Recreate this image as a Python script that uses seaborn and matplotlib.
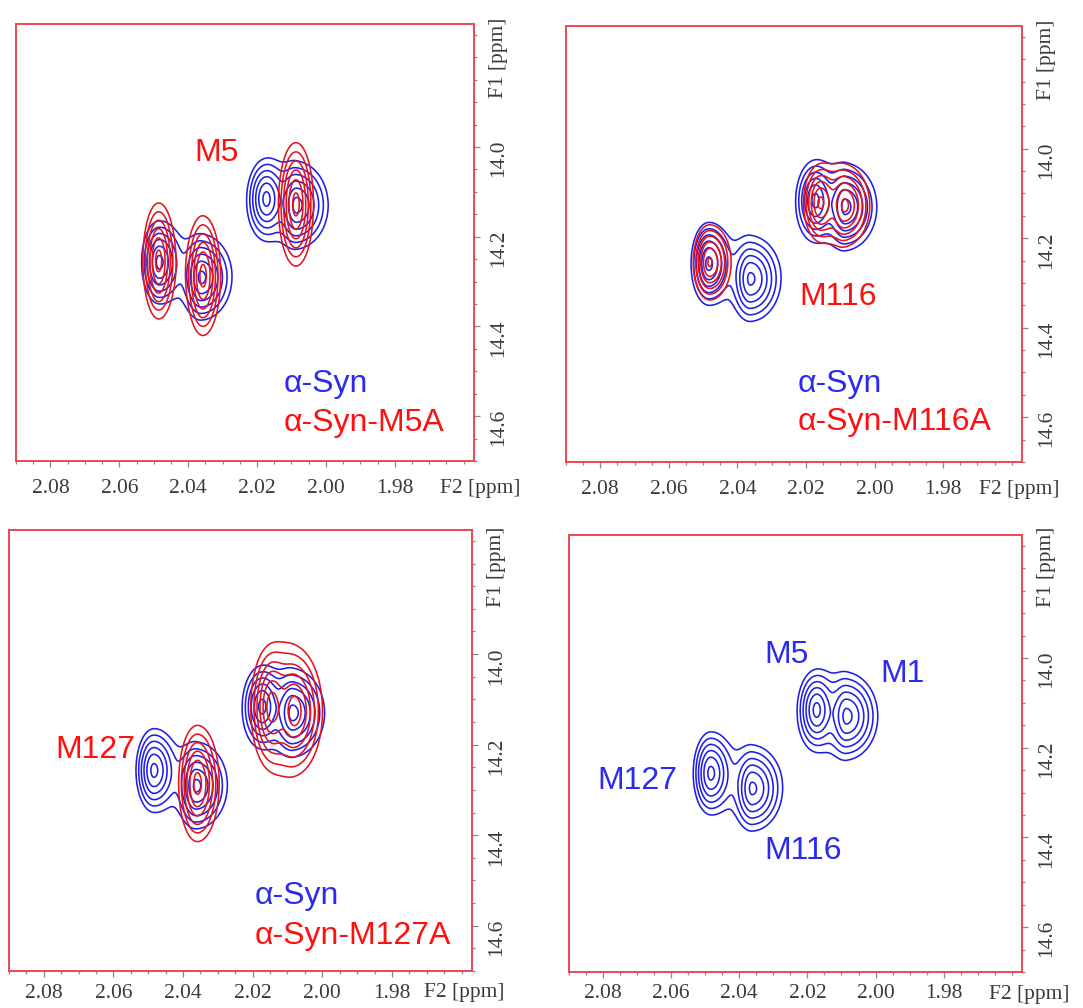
import numpy as np
import matplotlib
matplotlib.use("Agg")
import matplotlib.pyplot as plt
from matplotlib.ticker import FixedLocator, MultipleLocator, FormatStrFormatter
import seaborn as sns

# ---- Met methyl cross-peaks: 1H shift (F2), 13C shift (F1), height, half-widths ----
wt_residue = ["M1", "M5", "M116", "M127"]
wt_f2 = [2.0085, 2.0173, 2.0362, 2.0484]
wt_f1 = [14.130, 14.116, 14.291, 14.257]
wt_height = [1.0, 1.0, 0.97, 1.0]
wt_hw_f2_up = [0.0039, 0.0040, 0.0039, 0.0037]      # toward higher ppm
wt_hw_f2_down = [0.0066, 0.0040, 0.0064, 0.0048]    # toward lower ppm
wt_hw_f1 = [0.068, 0.063, 0.068, 0.066]

m5a_residue = ["M1", "M116", "M127"]
m5a_f2 = [2.0087, 2.0357, 2.0486]
m5a_f1 = [14.128, 14.287, 14.254]
m5a_height = [1.0, 1.0, 1.0]
m5a_hw_f2_up = [0.0037, 0.0034, 0.0033]
m5a_hw_f2_down = [0.0037, 0.0037, 0.0034]
m5a_hw_f1 = [0.100, 0.096, 0.093]

m116a_residue = ["M1", "M5", "M127"]
m116a_f2 = [2.0087, 2.0158, 2.0481]
m116a_f1 = [14.127, 14.121, 14.254]
m116a_height = [0.92, 0.92, 0.92]
m116a_hw_f2_up = [0.0036, 0.0036, 0.0036]
m116a_hw_f2_down = [0.0054, 0.0039, 0.0047]
m116a_hw_f1 = [0.065, 0.062, 0.063]

m127a_residue = ["M1", "M5", "M116"]
m127a_f2 = [2.0078, 2.0146, 2.0359]
m127a_f1 = [14.126, 14.117, 14.286]
m127a_height = [1.0, 1.0, 1.0]
m127a_hw_f2_up = [0.0045, 0.0041, 0.0039]
m127a_hw_f2_down = [0.0056, 0.0042, 0.0045]
m127a_hw_f1 = [0.096, 0.092, 0.093]

f2_limits = (2.090, 1.957)
f1_limits = (14.70, 13.726)
f2_tick_values = [2.08, 2.06, 2.04, 2.02, 2.00, 1.98]
f1_tick_values = [14.0, 14.2, 14.4, 14.6]

WT_BLUE = "#1f1fe6"
MUT_RED = "#e3141e"
TEXT_BLUE = "#2b2bf0"
TEXT_RED = "#ff1010"
FRAME_RED = "#ec4650"

sns.set_theme(style="white")
plt.rcParams["font.family"] = ["Liberation Serif", "DejaVu Serif"]
SANS = ["Liberation Sans", "DejaVu Sans"]

# evaluation grid for the 2D spectra
g2 = np.linspace(f2_limits[1], f2_limits[0], 700)
g1 = np.linspace(f1_limits[1], f1_limits[0], 700)
F2, F1 = np.meshgrid(g2, g1)


def spectrum(f2, f1, height, hw_up, hw_down, hw_f1):
    z = np.zeros_like(F2)
    for c2, c1, h, su, sd, s1 in zip(f2, f1, height, hw_up, hw_down, hw_f1):
        s2 = np.where(F2 >= c2, su, sd)
        r2 = ((F2 - c2) / s2) ** 2 + ((F1 - c1) / s1) ** 2
        z += h / (1.0 + r2) ** 2
    return z


wt_levels = 0.12 * 1.50 ** np.arange(6)
mut_levels = 0.12 * 1.49 ** np.arange(6)

wt_z = spectrum(wt_f2, wt_f1, wt_height, wt_hw_f2_up, wt_hw_f2_down, wt_hw_f1)
mutants = {
    "α-Syn-M5A": spectrum(m5a_f2, m5a_f1, m5a_height, m5a_hw_f2_up, m5a_hw_f2_down, m5a_hw_f1),
    "α-Syn-M116A": spectrum(m116a_f2, m116a_f1, m116a_height, m116a_hw_f2_up, m116a_hw_f2_down, m116a_hw_f1),
    "α-Syn-M127A": spectrum(m127a_f2, m127a_f1, m127a_height, m127a_hw_f2_up, m127a_hw_f2_down, m127a_hw_f1),
}

W, H = 1083, 1008
fig = plt.figure(figsize=(W / 100, H / 100), dpi=100)
fig.patch.set_facecolor("white")


def make_axes(l, r, t, b):
    return fig.add_axes([l / W, (H - b) / H, (r - l) / W, (b - t) / H])


def style_axes(ax, f2_label_x, f1_label_y, xpad):
    ax.set_facecolor("white")
    ax.set_xlim(*f2_limits)
    ax.set_ylim(*f1_limits)
    for sp in ax.spines.values():
        sp.set_visible(True)
        sp.set_color(FRAME_RED)
        sp.set_linewidth(1.4)
    ax.yaxis.tick_right()
    ax.xaxis.tick_bottom()
    ax.xaxis.set_major_locator(FixedLocator(f2_tick_values))
    ax.xaxis.set_major_formatter(FormatStrFormatter("%.2f"))
    ax.xaxis.set_minor_locator(MultipleLocator(0.005))
    ax.yaxis.set_major_locator(FixedLocator(f1_tick_values))
    ax.yaxis.set_major_formatter(FormatStrFormatter("%.1f"))
    ax.yaxis.set_minor_locator(MultipleLocator(0.05))
    ax.tick_params(which="both", direction="out", color="#8a8a8a", width=0.9,
                   labelsize=15.5, labelcolor="#3a3a3a")
    ax.tick_params(which="major", length=4)
    ax.tick_params(which="minor", length=2.5)
    ax.tick_params(axis="y", labelrotation=90, pad=7)
    ax.tick_params(axis="x", pad=xpad)
    ax.grid(False)
    ax.annotate("F2 [ppm]", xy=(f2_label_x, 0), xycoords="axes fraction",
                xytext=(0, -(xpad + 4)), textcoords="offset points", ha="left", va="top",
                fontsize=15.5, color="#3a3a3a")
    ax.annotate("F1 [ppm]", xy=(1, f1_label_y), xycoords="axes fraction",
                xytext=(11, 0), textcoords="offset points", ha="left", va="center",
                rotation=90, fontsize=15.5, color="#3a3a3a")


def draw_wt(ax):
    ax.contour(F2, F1, wt_z, levels=wt_levels, colors=WT_BLUE, linewidths=1.15)


def draw_mut(ax, name):
    ax.contour(F2, F1, mutants[name], levels=mut_levels, colors=MUT_RED, linewidths=1.15)


def legend_text(ax, x, y_top, y_bottom, mut_name):
    ax.text(x, y_top, "α-Syn", transform=ax.transAxes, ha="left", va="center",
            fontsize=23, color=TEXT_BLUE, family=SANS)
    ax.text(x, y_bottom, mut_name, transform=ax.transAxes, ha="left", va="center",
            fontsize=23, color=TEXT_RED, family=SANS)


# top-left: M5A
ax1 = make_axes(16, 474, 24, 461)
draw_wt(ax1)
draw_mut(ax1, "α-Syn-M5A")
style_axes(ax1, 0.926, 0.923, 9)
ax1.text(0.439, 0.705, "M5", transform=ax1.transAxes, ha="center", va="center",
         fontsize=23, color=TEXT_RED, family=SANS)
legend_text(ax1, 0.584, 0.176, 0.088, "α-Syn-M5A")

# top-right: M116A
ax2 = make_axes(566, 1022, 26, 462)
draw_wt(ax2)
draw_mut(ax2, "α-Syn-M116A")
style_axes(ax2, 0.906, 0.923, 9)
ax2.text(0.511, 0.378, "M116", transform=ax2.transAxes, ha="left", va="center",
         fontsize=23, color=TEXT_RED, family=SANS)
legend_text(ax2, 0.509, 0.180, 0.092, "α-Syn-M116A")

# bottom-left: M127A
ax3 = make_axes(9, 472, 530, 971)
draw_wt(ax3)
draw_mut(ax3, "α-Syn-M127A")
style_axes(ax3, 0.896, 0.916, 5)
ax3.text(0.101, 0.500, "M127", transform=ax3.transAxes, ha="left", va="center",
         fontsize=23, color=TEXT_RED, family=SANS)
legend_text(ax3, 0.530, 0.169, 0.079, "α-Syn-M127A")

# bottom-right: α-Syn alone with assignments
ax4 = make_axes(569, 1022, 535, 972)
draw_wt(ax4)
style_axes(ax4, 0.927, 0.927, 5)
assign_pos = {"M5": (0.431, 0.726), "M1": (0.688, 0.681),
              "M127": (0.063, 0.437), "M116": (0.431, 0.278)}
for res in wt_residue:
    x, y = assign_pos[res]
    ax4.text(x, y, res, transform=ax4.transAxes, ha="left", va="center",
             fontsize=23, color=TEXT_BLUE, family=SANS)

fig.savefig("out.png", dpi=100, facecolor="white")
